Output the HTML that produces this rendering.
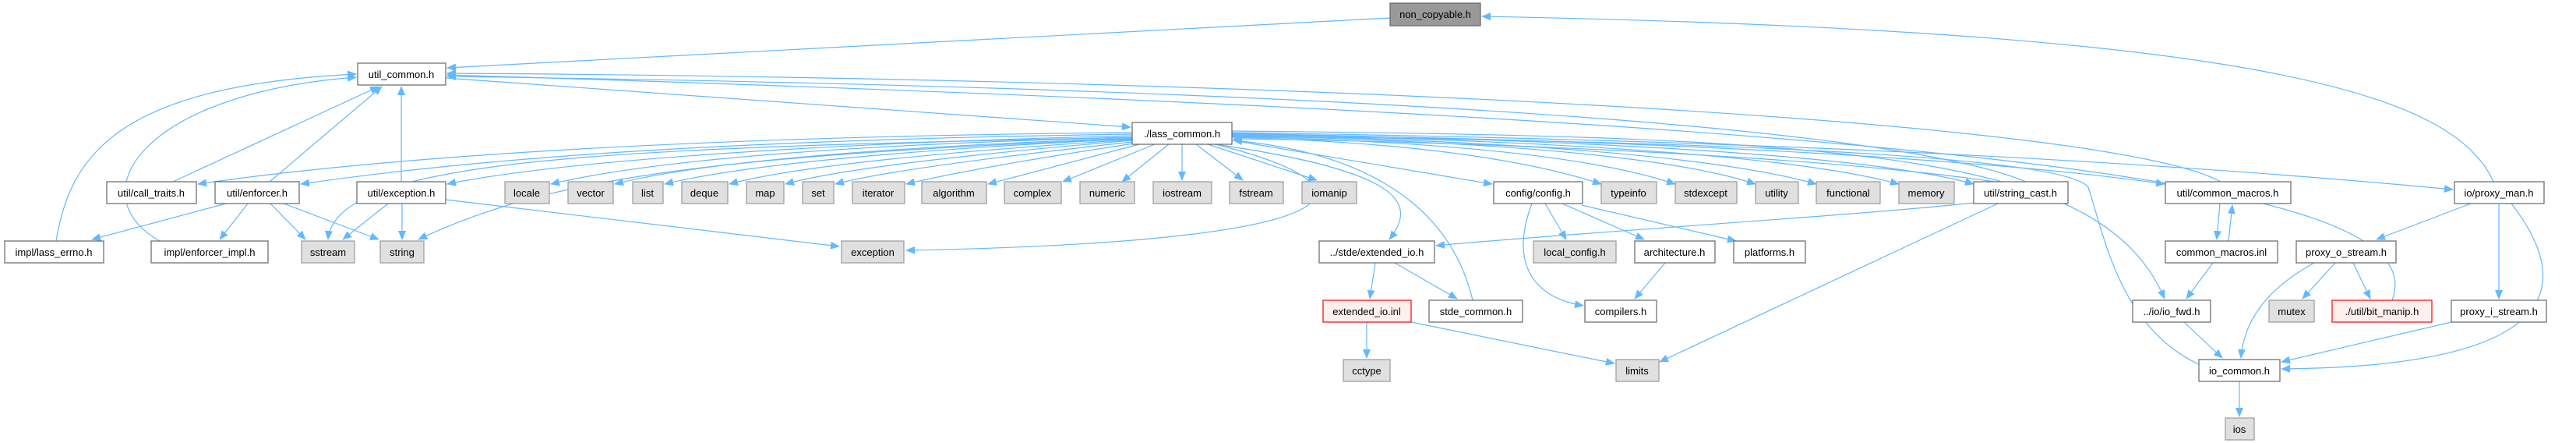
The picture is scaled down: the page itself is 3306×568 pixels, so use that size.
<!DOCTYPE html>
<html><head><meta charset="utf-8"><style>
html,body{margin:0;padding:0;background:#fff;width:3306px;height:568px;overflow:hidden}
svg text{font-family:"Liberation Sans",sans-serif;font-size:13px;fill:#000;text-anchor:middle}
.w{fill:#fff;stroke:#666;stroke-width:1.2}
.g{fill:#e0e0e0;stroke:#999;stroke-width:1.2}
.d{fill:#999;stroke:#666;stroke-width:1.2}
.r{fill:#fff0f0;stroke:#f00;stroke-width:1.2}
.e{fill:none;stroke:#63b8ff;stroke-width:1.2;marker-end:url(#a)}
</style></head><body>
<svg width="3306" height="568" viewBox="0 0 3306 568" xmlns="http://www.w3.org/2000/svg">
<defs><marker id="a" markerUnits="userSpaceOnUse" markerWidth="12" markerHeight="10" refX="11" refY="5" orient="auto"><path d="M0,0 L12,5 L0,10 z" fill="#63b8ff"/></marker></defs>
<g>
<path class="e" d="M1784 23 L574 87"/>
<path class="e" d="M3200 233 C3150 120,2900 40,1902 21"/>
<path class="e" d="M572 100 L1451 163"/>
<path class="e" d="M3070 385 C3120 250,2700 160,574 96"/>
<path class="e" d="M2600 233 C2400 150,1500 110,574 98"/>
<path class="e" d="M2850 233 C2700 150,1600 100,574 94"/>
<path class="e" d="M222 233 L486 111"/>
<path class="e" d="M346 233 L490 111"/>
<path class="e" d="M515 233 L515 111"/>
<path class="e" d="M72 309 C90 200,150 110,457 95"/>
<path class="e" d="M205 309 C100 250,180 120,457 99"/>
<path class="e" d="M1453 170 C900 175,500 200,254 236"/>
<path class="e" d="M1453 172 C900 180,600 205,386 236"/>
<path class="e" d="M1453 174 C1000 185,700 210,574 236"/>
<path class="e" d="M1453 176 Q900 190 707 236"/>
<path class="e" d="M1453 177 Q950 195 789 236"/>
<path class="e" d="M1453 178 Q1000 200 853 236"/>
<path class="e" d="M1453 179 Q1050 205 936 236"/>
<path class="e" d="M1453 180 Q1100 210 1008 236"/>
<path class="e" d="M1453 182 Q1150 215 1072 236"/>
<path class="e" d="M1455 184 Q1250 215 1163 236"/>
<path class="e" d="M1462 185 L1268 236"/>
<path class="e" d="M1482 185 L1364 233"/>
<path class="e" d="M1500 185 L1440 233"/>
<path class="e" d="M1517 185 L1517 231"/>
<path class="e" d="M1535 185 L1595 231"/>
<path class="e" d="M1550 185 L1690 231"/>
<path class="e" d="M1581 180 L1915 236"/>
<path class="e" d="M1581 176 Q1900 185 2055 236"/>
<path class="e" d="M1581 175 Q2000 185 2150 236"/>
<path class="e" d="M1581 174 Q2100 185 2253 236"/>
<path class="e" d="M1581 173 Q2150 185 2331 236"/>
<path class="e" d="M1581 172 Q2250 185 2437 236"/>
<path class="e" d="M1581 171 Q2350 185 2533 236"/>
<path class="e" d="M1581 172 C2200 180,2600 210,2778 236"/>
<path class="e" d="M1581 170 C2300 180,2800 210,3148 243"/>
<path class="e" d="M1581 168 C2400 175,2700 200,2778 383"/>
<path class="e" d="M1560 185 C1800 220,1820 260,1783 307"/>
<path class="e" d="M1560 185 C1780 240,1760 310,1163 321"/>
<path class="e" d="M1453 176 C800 190,430 200,421 307"/>
<path class="e" d="M1453 178 C900 200,700 230,537 307"/>
<path class="e" d="M1890 385 C1870 300,1800 200,1583 180"/>
<path class="e" d="M2822 467 C2720 420,2700 300,2680 240 C2650 200,2200 180,1583 175"/>
<path class="e" d="M2560 233 C2300 195,1800 180,1583 178"/>
<path class="e" d="M290 261 L118 307"/>
<path class="e" d="M318 261 L282 307"/>
<path class="e" d="M347 261 L392 307"/>
<path class="e" d="M364 261 L486 307"/>
<path class="e" d="M498 261 L440 307"/>
<path class="e" d="M516 261 L516 307"/>
<path class="e" d="M572 256 L1077 316"/>
<path class="e" d="M1983 261 L2010 307"/>
<path class="e" d="M2005 261 L2110 307"/>
<path class="e" d="M2030 263 L2228 309"/>
<path class="e" d="M1966 261 C1940 330,1960 380,2032 392"/>
<path class="e" d="M2137 337 L2098 383"/>
<path class="e" d="M2533 260 C2400 275,2000 300,1843 315"/>
<path class="e" d="M2564 261 L2130 464"/>
<path class="e" d="M1765 337 L1758 383"/>
<path class="e" d="M1790 337 L1870 383"/>
<path class="e" d="M1754 413 L1754 459"/>
<path class="e" d="M1811 413 L2072 466"/>
<path class="e" d="M2849 261 L2845 307"/>
<path class="e" d="M2860 309 L2865 263"/>
<path class="e" d="M2840 337 L2806 383"/>
<path class="e" d="M2803 413 L2852 459"/>
<path class="e" d="M3171 261 L3050 307"/>
<path class="e" d="M3207 261 L3207 383"/>
<path class="e" d="M3223 261 C3300 360,3300 470,2928 473"/>
<path class="e" d="M2970 337 C2910 370,2880 410,2876 459"/>
<path class="e" d="M2997 337 L2955 383"/>
<path class="e" d="M3020 337 L3042 383"/>
<path class="e" d="M3146 413 L2928 464"/>
<path class="e" d="M2874 489 L2874 534"/>
</g>
<g>
<rect class="d" x="1784" y="4" width="116" height="29"/><text x="1842" y="23">non_copyable.h</text>
<rect class="w" x="459" y="81" width="113" height="28"/><text x="515" y="100">util_common.h</text>
<rect class="w" x="1453" y="157" width="128" height="28"/><text x="1517" y="176">./lass_common.h</text>

<rect class="w" x="137" y="233" width="115" height="28"/><text x="194" y="252">util/call_traits.h</text>
<rect class="w" x="276" y="233" width="108" height="28"/><text x="330" y="252">util/enforcer.h</text>
<rect class="w" x="458" y="233" width="114" height="28"/><text x="515" y="252">util/exception.h</text>
<rect class="g" x="648" y="233" width="57" height="28"/><text x="676" y="252">locale</text>
<rect class="g" x="729" y="233" width="58" height="28"/><text x="758" y="252">vector</text>
<rect class="g" x="812" y="233" width="39" height="28"/><text x="831" y="252">list</text>
<rect class="g" x="875" y="233" width="59" height="28"/><text x="904" y="252">deque</text>
<rect class="g" x="958" y="233" width="48" height="28"/><text x="982" y="252">map</text>
<rect class="g" x="1030" y="233" width="40" height="28"/><text x="1050" y="252">set</text>
<rect class="g" x="1094" y="233" width="67" height="28"/><text x="1127" y="252">iterator</text>
<rect class="g" x="1183" y="233" width="83" height="28"/><text x="1224" y="252">algorithm</text>
<rect class="g" x="1289" y="233" width="73" height="28"/><text x="1325" y="252">complex</text>
<rect class="g" x="1386" y="233" width="70" height="28"/><text x="1421" y="252">numeric</text>
<rect class="g" x="1480" y="233" width="75" height="28"/><text x="1517" y="252">iostream</text>
<rect class="g" x="1578" y="233" width="69" height="28"/><text x="1612" y="252">fstream</text>
<rect class="g" x="1671" y="233" width="70" height="28"/><text x="1706" y="252">iomanip</text>
<rect class="w" x="1917" y="233" width="114" height="28"/><text x="1974" y="252">config/config.h</text>
<rect class="g" x="2055" y="233" width="71" height="28"/><text x="2090" y="252">typeinfo</text>
<rect class="g" x="2150" y="233" width="79" height="28"/><text x="2189" y="252">stdexcept</text>
<rect class="g" x="2253" y="233" width="55" height="28"/><text x="2280" y="252">utility</text>
<rect class="g" x="2331" y="233" width="82" height="28"/><text x="2372" y="252">functional</text>
<rect class="g" x="2437" y="233" width="71" height="28"/><text x="2472" y="252">memory</text>
<rect class="w" x="2533" y="233" width="121" height="28"/><text x="2593" y="252">util/string_cast.h</text>
<rect class="w" x="2779" y="233" width="161" height="28"/><text x="2859" y="252">util/common_macros.h</text>
<rect class="w" x="3150" y="233" width="115" height="28"/><text x="3207" y="252">io/proxy_man.h</text>

<rect class="w" x="6" y="309" width="127" height="28"/><text x="69" y="328">impl/lass_errno.h</text>
<rect class="w" x="194" y="309" width="150" height="28"/><text x="269" y="328">impl/enforcer_impl.h</text>
<rect class="g" x="387" y="309" width="68" height="28"/><text x="421" y="328">sstream</text>
<rect class="g" x="488" y="309" width="56" height="28"/><text x="516" y="328">string</text>
<rect class="g" x="1080" y="309" width="80" height="28"/><text x="1120" y="328">exception</text>
<rect class="w" x="1693" y="309" width="148" height="28"/><text x="1767" y="328">../stde/extended_io.h</text>
<rect class="g" x="1968" y="309" width="106" height="28"/><text x="2021" y="328">local_config.h</text>
<rect class="w" x="2098" y="309" width="103" height="28"/><text x="2149" y="328">architecture.h</text>
<rect class="w" x="2225" y="309" width="92" height="28"/><text x="2271" y="328">platforms.h</text>
<rect class="w" x="2779" y="309" width="144" height="28"/><text x="2851" y="328">common_macros.inl</text>
<rect class="w" x="2947" y="309" width="128" height="28"/><text x="3011" y="328">proxy_o_stream.h</text>

<rect class="r" x="1698" y="385" width="113" height="28"/><text x="1754" y="404">extended_io.inl</text>
<rect class="w" x="1834" y="385" width="120" height="28"/><text x="1894" y="404">stde_common.h</text>
<rect class="w" x="2034" y="385" width="92" height="28"/><text x="2080" y="404">compilers.h</text>
<rect class="w" x="2737" y="385" width="100" height="28"/><text x="2787" y="404">../io/io_fwd.h</text>
<rect class="g" x="2912" y="385" width="58" height="28"/><text x="2941" y="404">mutex</text>
<rect class="r" x="2993" y="385" width="128" height="28"/><text x="3057" y="404">./util/bit_manip.h</text>
<rect class="w" x="3146" y="385" width="122" height="28"/><text x="3207" y="404">proxy_i_stream.h</text>

<rect class="g" x="1724" y="461" width="60" height="28"/><text x="1754" y="480">cctype</text>
<rect class="g" x="2074" y="461" width="55" height="28"/><text x="2101" y="480">limits</text>
<rect class="w" x="2822" y="461" width="104" height="28"/><text x="2874" y="480">io_common.h</text>
<rect class="g" x="2856" y="536" width="37" height="28"/><text x="2874" y="555">ios</text>
</g>
</svg>
</body></html>
